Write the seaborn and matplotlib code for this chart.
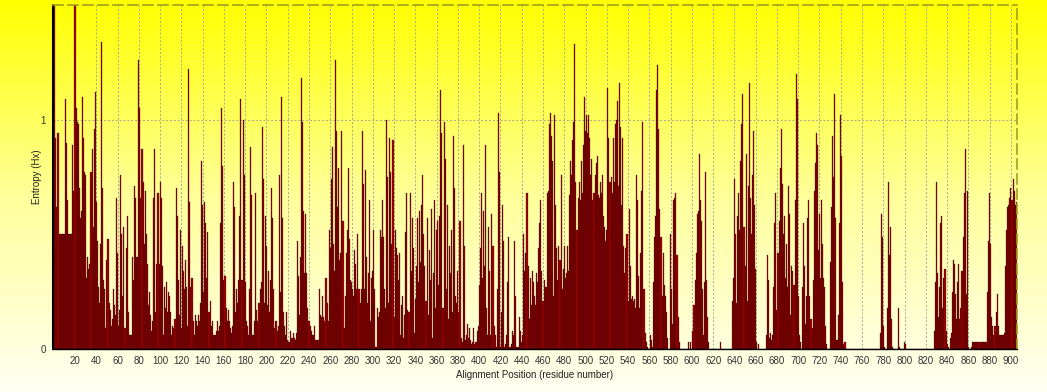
import numpy as np
import pandas as pd
import matplotlib
matplotlib.use("Agg")
import matplotlib.pyplot as plt
from matplotlib.colors import LinearSegmentedColormap
import seaborn as sns

sns.set_style("white")
plt.rcParams['font.family'] = ['Liberation Sans', 'DejaVu Sans']

# ---- data: Shannon entropy per alignment position (residues 1..905) ----
entropy_001_100 = [
    1.50, 0.92, 0.62, 0.94, 0.50, 0.50, 0.50, 0.50, 0.50, 0.50,
    1.09, 0.90, 0.65, 0.50, 0.50, 0.50, 0.50, 0.89, 0.69, 1.50,
    1.05, 0.99, 0.98, 0.70, 0.57, 0.60, 1.10, 0.92, 0.77, 0.76,
    0.31, 0.40, 0.35, 0.37, 0.77, 0.87, 0.53, 0.96, 1.12, 0.64,
    0.47, 0.27, 0.20, 0.46, 1.34, 0.70, 0.30, 0.26, 0.09, 0.39,
    0.48, 0.20, 0.17, 0.10, 0.13, 0.26, 0.19, 0.15, 0.66, 0.42,
    0.10, 0.17, 0.76, 0.50, 0.23, 0.53, 0.09, 0.44, 0.58, 0.16,
    0.06, 0.06, 0.06, 0.40, 0.30, 0.71, 0.66, 0.40, 0.40, 1.26,
    1.05, 0.66, 0.87, 0.73, 0.46, 0.69, 0.50, 0.37, 0.19, 0.25,
    0.15, 0.08, 0.12, 0.66, 0.87, 0.16, 0.37, 0.68, 0.37, 0.73,
]
entropy_101_200 = [
    0.66, 0.36, 0.06, 0.27, 0.18, 0.29, 0.16, 0.25, 0.23, 0.16,
    0.06, 0.10, 0.09, 0.13, 0.70, 0.58, 0.30, 0.15, 0.52, 0.09,
    0.45, 0.34, 0.26, 0.39, 0.27, 0.10, 1.22, 0.64, 0.27, 0.31,
    0.12, 0.06, 0.15, 0.12, 0.10, 0.15, 0.12, 0.20, 0.82, 0.63,
    0.25, 0.64, 0.55, 0.31, 0.51, 0.16, 0.21, 0.10, 0.12, 0.06,
    0.06, 0.06, 0.08, 0.12, 0.08, 0.10, 0.55, 1.05, 0.80, 0.30,
    0.32, 0.18, 0.12, 0.17, 0.12, 0.09, 0.07, 0.10, 0.73, 0.62,
    0.16, 0.26, 0.20, 0.30, 0.58, 1.09, 0.30, 1.00, 0.76, 0.29,
    0.12, 0.10, 0.06, 0.26, 0.88, 0.67, 0.06, 0.06, 0.12, 0.68,
    0.17, 0.12, 0.20, 0.26, 0.29, 0.97, 0.74, 0.20, 0.58, 0.45,
]
entropy_201_300 = [
    0.19, 0.34, 0.16, 0.30, 0.70, 0.57, 0.26, 0.09, 0.12, 0.08,
    0.10, 0.76, 0.25, 1.10, 0.57, 0.16, 0.10, 0.06, 0.16, 0.04,
    0.03, 0.03, 0.08, 0.05, 0.07, 0.05, 0.04, 0.07, 0.47, 0.32,
    0.15, 0.40, 1.18, 0.99, 0.60, 0.33, 0.59, 0.33, 0.18, 0.12,
    0.10, 0.08, 0.06, 0.06, 0.10, 0.04, 0.04, 0.04, 0.04, 0.26,
    0.15, 0.14, 0.23, 0.14, 0.12, 0.31, 0.20, 0.12, 0.52, 0.44,
    0.74, 0.88, 0.46, 0.34, 1.26, 0.95, 0.62, 0.79, 0.39, 0.42,
    0.95, 0.56, 0.09, 0.23, 0.42, 0.52, 0.79, 0.48, 0.30, 0.29,
    0.26, 0.23, 0.43, 0.37, 0.26, 0.50, 0.26, 0.20, 0.26, 0.95,
    0.72, 0.26, 0.78, 0.40, 0.20, 0.33, 0.65, 0.12, 0.31, 0.34,
]
entropy_301_400 = [
    0.52, 0.26, 0.01, 0.18, 0.14, 0.16, 0.52, 0.49, 0.65, 0.49,
    0.26, 0.18, 1.00, 0.75, 0.20, 0.92, 0.77, 0.46, 0.91, 0.14,
    0.52, 0.44, 0.41, 0.30, 0.42, 0.06, 0.19, 0.23, 0.05, 0.15,
    0.51, 0.68, 0.17, 0.16, 0.68, 0.34, 0.57, 0.44, 0.07, 0.22,
    0.36, 0.57, 0.29, 0.60, 0.38, 0.63, 0.76, 0.50, 0.36, 0.21,
    0.57, 0.15, 0.43, 0.30, 0.61, 0.05, 0.33, 0.65, 0.18, 0.52,
    0.56, 0.28, 0.58, 1.13, 0.94, 0.18, 0.99, 0.83, 0.26, 0.63,
    0.13, 0.45, 0.33, 0.52, 0.16, 0.93, 0.70, 0.23, 0.20, 0.34,
    0.16, 0.56, 0.05, 0.03, 0.89, 0.45, 0.04, 0.06, 0.11, 0.05,
    0.09, 0.04, 0.02, 0.03, 0.09, 0.02, 0.03, 0.08, 0.10, 0.28,
]
entropy_401_500 = [
    0.44, 0.68, 0.31, 0.60, 0.36, 0.89, 0.18, 0.06, 0.53, 0.34,
    0.06, 0.59, 0.45, 0.10, 0.06, 0.01, 0.26, 1.03, 0.77, 0.01,
    0.16, 0.63, 0.47, 0.01, 0.02, 0.06, 0.29, 0.49, 0.01, 0.02,
    0.08, 0.06, 0.47, 0.23, 0.01, 0.01, 0.01, 0.14, 0.08, 0.03,
    0.06, 0.50, 0.34, 0.42, 0.68, 0.36, 0.13, 0.31, 0.19, 0.34,
    0.29, 0.23, 0.19, 0.33, 0.29, 0.44, 0.55, 0.65, 0.34, 0.21,
    0.30, 0.27, 0.27, 0.68, 0.69, 0.98, 1.03, 0.93, 0.82, 0.23,
    1.02, 0.63, 0.44, 0.30, 0.45, 0.39, 0.76, 0.26, 0.35, 0.45,
    0.31, 0.33, 0.45, 0.34, 0.67, 0.82, 0.76, 0.91, 0.99, 1.33,
    0.73, 0.52, 0.66, 0.73, 0.65, 0.82, 0.68, 0.89, 1.10, 0.95,
]
entropy_501_600 = [
    1.02, 0.94, 1.02, 0.92, 0.76, 0.83, 0.65, 0.68, 0.76, 0.81,
    0.84, 0.67, 0.66, 0.73, 0.68, 0.76, 0.58, 0.53, 0.47, 0.52,
    1.14, 0.92, 0.73, 0.75, 0.68, 0.92, 0.73, 0.98, 1.00, 1.08,
    0.71, 1.16, 0.97, 0.63, 0.92, 0.45, 0.33, 0.44, 0.50, 0.21,
    0.61, 0.36, 0.22, 0.23, 0.21, 0.22, 0.18, 0.76, 0.65, 0.32,
    0.18, 0.42, 0.69, 0.99, 0.26, 0.07, 0.03, 0.01, 0.00, 0.00,
    0.06, 0.04, 0.01, 0.29, 0.49, 0.58, 1.13, 1.24, 0.96, 0.61,
    0.49, 0.23, 0.42, 0.28, 0.23, 0.16, 0.05, 0.00, 0.00, 0.50,
    0.26, 0.11, 0.65, 0.66, 0.68, 0.41, 0.14, 0.03, 0.00, 0.00,
    0.00, 0.00, 0.00, 0.00, 0.00, 0.00, 0.03, 0.00, 0.03, 0.00,
]
entropy_601_700 = [
    0.08, 0.19, 0.30, 0.42, 0.59, 0.60, 0.85, 0.65, 0.56, 0.26,
    0.06, 0.29, 0.77, 0.30, 0.14, 0.03, 0.00, 0.00, 0.00, 0.00,
    0.00, 0.00, 0.00, 0.00, 0.00, 0.00, 0.03, 0.00, 0.00, 0.00,
    0.00, 0.00, 0.00, 0.00, 0.00, 0.00, 0.00, 0.21, 0.31, 0.74,
    0.50, 0.20, 0.58, 0.68, 0.52, 0.82, 0.98, 1.11, 0.53, 0.36,
    0.85, 0.21, 0.71, 1.16, 0.66, 0.50, 0.76, 0.95, 0.63, 0.35,
    0.03, 0.00, 0.02, 0.00, 0.00, 0.00, 0.00, 0.00, 0.00, 0.06,
    0.41, 0.30, 0.05, 0.07, 0.04, 0.06, 0.27, 0.55, 0.68, 0.17,
    0.42, 0.56, 0.79, 0.96, 0.72, 0.50, 0.58, 0.31, 0.46, 0.27,
    0.71, 0.59, 0.15, 0.36, 0.34, 0.28, 0.65, 1.20, 1.09, 0.23,
]
entropy_701_800 = [
    0.06, 0.03, 0.00, 0.27, 0.55, 0.36, 0.11, 0.23, 0.57, 0.65,
    0.23, 0.13, 0.09, 0.30, 0.69, 0.81, 0.94, 0.89, 0.43, 0.59,
    0.31, 0.65, 0.46, 0.31, 0.27, 0.10, 0.02, 0.00, 0.00, 0.38,
    0.62, 0.93, 0.75, 1.11, 0.57, 0.04, 0.04, 0.15, 0.55, 1.02,
    0.84, 0.29, 0.02, 0.03, 0.00, 0.00, 0.00, 0.00, 0.00, 0.00,
    0.00, 0.00, 0.00, 0.00, 0.00, 0.00, 0.00, 0.00, 0.00, 0.00,
    0.00, 0.00, 0.00, 0.00, 0.00, 0.00, 0.00, 0.00, 0.00, 0.00,
    0.00, 0.00, 0.00, 0.00, 0.00, 0.00, 0.07, 0.59, 0.49, 0.10,
    0.01, 0.00, 0.00, 0.18, 0.73, 0.41, 0.53, 0.13, 0.01, 0.00,
    0.00, 0.00, 0.00, 0.18, 0.01, 0.00, 0.00, 0.00, 0.00, 0.03,
]
entropy_801_905 = [
    0.02, 0.00, 0.00, 0.00, 0.00, 0.00, 0.00, 0.00, 0.00, 0.00,
    0.00, 0.00, 0.00, 0.00, 0.00, 0.00, 0.00, 0.00, 0.00, 0.00,
    0.00, 0.00, 0.00, 0.00, 0.00, 0.00, 0.00, 0.08, 0.29, 0.73,
    0.33, 0.14, 0.27, 0.55, 0.58, 0.18, 0.31, 0.35, 0.08, 0.02,
    0.01, 0.00, 0.05, 0.07, 0.25, 0.39, 0.37, 0.24, 0.13, 0.29,
    0.37, 0.13, 0.18, 0.34, 0.49, 0.68, 0.87, 0.24, 0.69, 0.01,
    0.00, 0.00, 0.01, 0.03, 0.03, 0.03, 0.03, 0.03, 0.03, 0.03,
    0.03, 0.03, 0.03, 0.03, 0.03, 0.03, 0.03, 0.25, 0.47, 0.68,
    0.46, 0.14, 0.10, 0.06, 0.10, 0.16, 0.24, 0.10, 0.06, 0.06,
    0.06, 0.06, 0.06, 0.07, 0.36, 0.52, 0.62, 0.63, 0.66, 0.70,
    0.65, 0.74, 0.69, 0.63, 0.64,
]

entropy = (entropy_001_100 + entropy_101_200 + entropy_201_300 + entropy_301_400
           + entropy_401_500 + entropy_501_600 + entropy_601_700 + entropy_701_800
           + entropy_801_905)
positions = list(range(1, len(entropy) + 1))
x_ticks = list(range(20, 901, 20))
y_ticks = [0, 1]
x_label = "Alignment Position (residue number)"
y_label = "Entropy (Hx)"

# ---- figure ----
W, H = 1047, 392
fig = plt.figure(figsize=(W / 100, H / 100), dpi=100)

# yellow gradient background over the whole figure
bg = fig.add_axes([0, 0, 1, 1], zorder=-10)
grad = np.linspace(0, 1, 256).reshape(-1, 1)
cmap = LinearSegmentedColormap.from_list("bg", ["#ffff00", "#ffff9a", "#fffff2"])
bg.imshow(grad, aspect="auto", cmap=cmap, extent=[0, 1, 0, 1])
bg.axis("off")

ax = fig.add_axes([53 / W, 1 - 349 / H, 964 / W, 344 / H])
ax.set_facecolor("none")
ax.set_axisbelow(True)

df = pd.DataFrame({"pos": positions, "entropy": entropy})
sns.barplot(data=df, x="pos", y="entropy", native_scale=True, width=1.0,
            color="#a80000", saturation=1, edgecolor="black", linewidth=0.18,
            errorbar=None, ax=ax)

ax.set_xlim(-0.7, 905.7)
ax.set_ylim(0, 1.5)
ax.set_xticks(x_ticks)
ax.set_xticklabels([str(t) for t in x_ticks])
ax.set_yticks(y_ticks)
ax.set_yticklabels([str(t) for t in y_ticks])

grid_kw = dict(color="#a8a890", linestyle=(0, (2, 2)), linewidth=0.7)
ax.xaxis.grid(True, **grid_kw)
ax.yaxis.grid(True, **grid_kw)

for side in ["top", "right"]:
    ax.spines[side].set_visible(True)
    ax.spines[side].set_color("#a0a020")
    ax.spines[side].set_linestyle((0, (6, 3)))
    ax.spines[side].set_linewidth(1.2)
ax.spines["left"].set_color("black")
ax.spines["left"].set_linewidth(1.5)
ax.spines["bottom"].set_color("black")
ax.spines["bottom"].set_linewidth(1.0)

ax.tick_params(axis="both", direction="out", length=3, width=0.8,
               labelsize=7, colors="#333333", pad=2)
ax.set_xlabel(x_label, fontsize=7, color="#222222", labelpad=3)
ax.set_ylabel(y_label, fontsize=7, color="#222222")
ax.yaxis.set_label_coords(-0.011, 0.5)

fig.savefig("out.png", dpi=100)
